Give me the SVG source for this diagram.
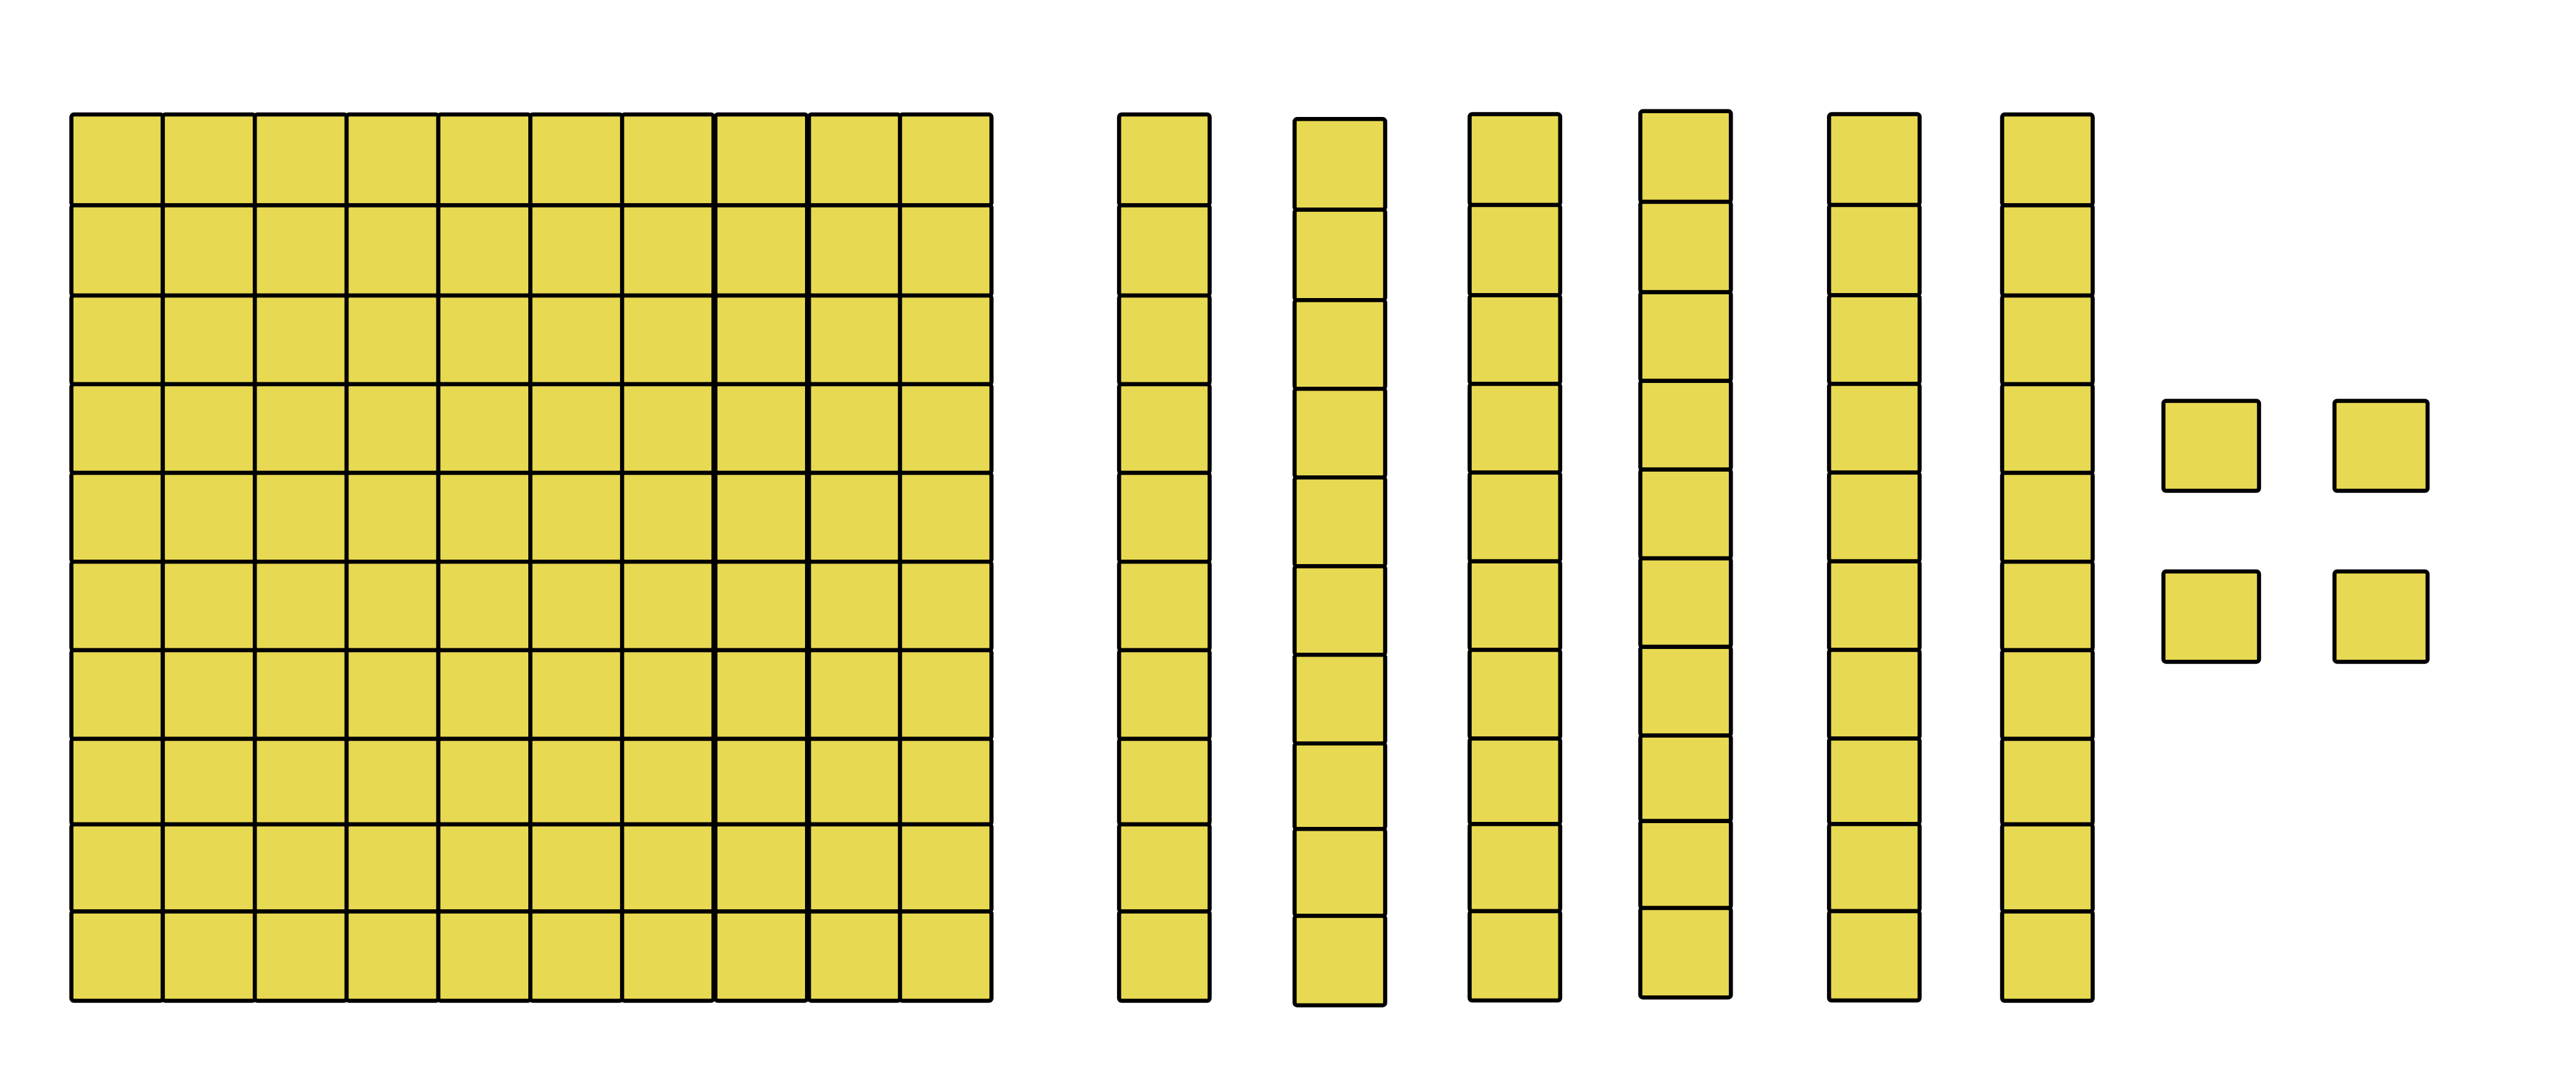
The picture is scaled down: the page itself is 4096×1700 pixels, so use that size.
<svg xmlns="http://www.w3.org/2000/svg" xmlns:xlink="http://www.w3.org/1999/xlink" width="4096" height="1700" viewBox="0 0 4096 1700">
<style>
.c{fill:#E8D952;stroke:#000;stroke-width:6.5;stroke-linejoin:round}
</style>
<defs>
<g id="rod">
<rect class="c" x="0" y="0" width="144" height="144.3" rx="4"/>
<rect class="c" x="0" y="144.3" width="144" height="143.7" rx="4"/>
<rect class="c" x="0" y="288" width="144" height="141" rx="4"/>
<rect class="c" x="0" y="429" width="144" height="141" rx="4"/>
<rect class="c" x="0" y="570" width="144" height="141.1" rx="4"/>
<rect class="c" x="0" y="711.1" width="144" height="140.9" rx="4"/>
<rect class="c" x="0" y="852" width="144" height="141" rx="4"/>
<rect class="c" x="0" y="993" width="144" height="135.9" rx="4"/>
<rect class="c" x="0" y="1128.9" width="144" height="138.4" rx="4"/>
<rect class="c" x="0" y="1267.3" width="144" height="142.1" rx="4"/>
</g>
</defs>
<rect width="4096" height="1700" fill="#fff"/>
<g id="hundred">
<g id="hcol0"><rect class="c" x="113.5" y="182.1" width="145.4" height="144.3" rx="4"/><rect class="c" x="113.5" y="326.4" width="145.4" height="143.7" rx="4"/><rect class="c" x="113.5" y="470.1" width="145.4" height="141" rx="4"/><rect class="c" x="113.5" y="611.1" width="145.4" height="141" rx="4"/><rect class="c" x="113.5" y="752.1" width="145.4" height="141.1" rx="4"/><rect class="c" x="113.5" y="893.2" width="145.4" height="140.9" rx="4"/><rect class="c" x="113.5" y="1034.1" width="145.4" height="141" rx="4"/><rect class="c" x="113.5" y="1175.1" width="145.4" height="135.9" rx="4"/><rect class="c" x="113.5" y="1311" width="145.4" height="138.4" rx="4"/><rect class="c" x="113.5" y="1449.4" width="145.4" height="142.1" rx="4"/></g>
<g id="hcol1"><rect class="c" x="258.9" y="182.1" width="146.3" height="144.3" rx="4"/><rect class="c" x="258.9" y="326.4" width="146.3" height="143.7" rx="4"/><rect class="c" x="258.9" y="470.1" width="146.3" height="141" rx="4"/><rect class="c" x="258.9" y="611.1" width="146.3" height="141" rx="4"/><rect class="c" x="258.9" y="752.1" width="146.3" height="141.1" rx="4"/><rect class="c" x="258.9" y="893.2" width="146.3" height="140.9" rx="4"/><rect class="c" x="258.9" y="1034.1" width="146.3" height="141" rx="4"/><rect class="c" x="258.9" y="1175.1" width="146.3" height="135.9" rx="4"/><rect class="c" x="258.9" y="1311" width="146.3" height="138.4" rx="4"/><rect class="c" x="258.9" y="1449.4" width="146.3" height="142.1" rx="4"/></g>
<g id="hcol2"><rect class="c" x="405.2" y="182.1" width="145.9" height="144.3" rx="4"/><rect class="c" x="405.2" y="326.4" width="145.9" height="143.7" rx="4"/><rect class="c" x="405.2" y="470.1" width="145.9" height="141" rx="4"/><rect class="c" x="405.2" y="611.1" width="145.9" height="141" rx="4"/><rect class="c" x="405.2" y="752.1" width="145.9" height="141.1" rx="4"/><rect class="c" x="405.2" y="893.2" width="145.9" height="140.9" rx="4"/><rect class="c" x="405.2" y="1034.1" width="145.9" height="141" rx="4"/><rect class="c" x="405.2" y="1175.1" width="145.9" height="135.9" rx="4"/><rect class="c" x="405.2" y="1311" width="145.9" height="138.4" rx="4"/><rect class="c" x="405.2" y="1449.4" width="145.9" height="142.1" rx="4"/></g>
<g id="hcol3"><rect class="c" x="551.1" y="182.1" width="145.9" height="144.3" rx="4"/><rect class="c" x="551.1" y="326.4" width="145.9" height="143.7" rx="4"/><rect class="c" x="551.1" y="470.1" width="145.9" height="141" rx="4"/><rect class="c" x="551.1" y="611.1" width="145.9" height="141" rx="4"/><rect class="c" x="551.1" y="752.1" width="145.9" height="141.1" rx="4"/><rect class="c" x="551.1" y="893.2" width="145.9" height="140.9" rx="4"/><rect class="c" x="551.1" y="1034.1" width="145.9" height="141" rx="4"/><rect class="c" x="551.1" y="1175.1" width="145.9" height="135.9" rx="4"/><rect class="c" x="551.1" y="1311" width="145.9" height="138.4" rx="4"/><rect class="c" x="551.1" y="1449.4" width="145.9" height="142.1" rx="4"/></g>
<g id="hcol4"><rect class="c" x="697" y="182.1" width="146.3" height="144.3" rx="4"/><rect class="c" x="697" y="326.4" width="146.3" height="143.7" rx="4"/><rect class="c" x="697" y="470.1" width="146.3" height="141" rx="4"/><rect class="c" x="697" y="611.1" width="146.3" height="141" rx="4"/><rect class="c" x="697" y="752.1" width="146.3" height="141.1" rx="4"/><rect class="c" x="697" y="893.2" width="146.3" height="140.9" rx="4"/><rect class="c" x="697" y="1034.1" width="146.3" height="141" rx="4"/><rect class="c" x="697" y="1175.1" width="146.3" height="135.9" rx="4"/><rect class="c" x="697" y="1311" width="146.3" height="138.4" rx="4"/><rect class="c" x="697" y="1449.4" width="146.3" height="142.1" rx="4"/></g>
<g id="hcol5"><rect class="c" x="843.3" y="182.1" width="145.9" height="144.3" rx="4"/><rect class="c" x="843.3" y="326.4" width="145.9" height="143.7" rx="4"/><rect class="c" x="843.3" y="470.1" width="145.9" height="141" rx="4"/><rect class="c" x="843.3" y="611.1" width="145.9" height="141" rx="4"/><rect class="c" x="843.3" y="752.1" width="145.9" height="141.1" rx="4"/><rect class="c" x="843.3" y="893.2" width="145.9" height="140.9" rx="4"/><rect class="c" x="843.3" y="1034.1" width="145.9" height="141" rx="4"/><rect class="c" x="843.3" y="1175.1" width="145.9" height="135.9" rx="4"/><rect class="c" x="843.3" y="1311" width="145.9" height="138.4" rx="4"/><rect class="c" x="843.3" y="1449.4" width="145.9" height="142.1" rx="4"/></g>
<g id="hcol6"><rect class="c" x="989.2" y="182.1" width="145.3" height="144.3" rx="4"/><rect class="c" x="989.2" y="326.4" width="145.3" height="143.7" rx="4"/><rect class="c" x="989.2" y="470.1" width="145.3" height="141" rx="4"/><rect class="c" x="989.2" y="611.1" width="145.3" height="141" rx="4"/><rect class="c" x="989.2" y="752.1" width="145.3" height="141.1" rx="4"/><rect class="c" x="989.2" y="893.2" width="145.3" height="140.9" rx="4"/><rect class="c" x="989.2" y="1034.1" width="145.3" height="141" rx="4"/><rect class="c" x="989.2" y="1175.1" width="145.3" height="135.9" rx="4"/><rect class="c" x="989.2" y="1311" width="145.3" height="138.4" rx="4"/><rect class="c" x="989.2" y="1449.4" width="145.3" height="142.1" rx="4"/></g>
<g id="hcol7"><rect class="c" x="1137.5" y="182.1" width="145.8" height="144.3" rx="4"/><rect class="c" x="1137.5" y="326.4" width="145.8" height="143.7" rx="4"/><rect class="c" x="1137.5" y="470.1" width="145.8" height="141" rx="4"/><rect class="c" x="1137.5" y="611.1" width="145.8" height="141" rx="4"/><rect class="c" x="1137.5" y="752.1" width="145.8" height="141.1" rx="4"/><rect class="c" x="1137.5" y="893.2" width="145.8" height="140.9" rx="4"/><rect class="c" x="1137.5" y="1034.1" width="145.8" height="141" rx="4"/><rect class="c" x="1137.5" y="1175.1" width="145.8" height="135.9" rx="4"/><rect class="c" x="1137.5" y="1311" width="145.8" height="138.4" rx="4"/><rect class="c" x="1137.5" y="1449.4" width="145.8" height="142.1" rx="4"/></g>
<g id="hcol8"><rect class="c" x="1286.3" y="182.1" width="144.8" height="144.3" rx="4"/><rect class="c" x="1286.3" y="326.4" width="144.8" height="143.7" rx="4"/><rect class="c" x="1286.3" y="470.1" width="144.8" height="141" rx="4"/><rect class="c" x="1286.3" y="611.1" width="144.8" height="141" rx="4"/><rect class="c" x="1286.3" y="752.1" width="144.8" height="141.1" rx="4"/><rect class="c" x="1286.3" y="893.2" width="144.8" height="140.9" rx="4"/><rect class="c" x="1286.3" y="1034.1" width="144.8" height="141" rx="4"/><rect class="c" x="1286.3" y="1175.1" width="144.8" height="135.9" rx="4"/><rect class="c" x="1286.3" y="1311" width="144.8" height="138.4" rx="4"/><rect class="c" x="1286.3" y="1449.4" width="144.8" height="142.1" rx="4"/></g>
<g id="hcol9"><rect class="c" x="1431.1" y="182.1" width="145.4" height="144.3" rx="4"/><rect class="c" x="1431.1" y="326.4" width="145.4" height="143.7" rx="4"/><rect class="c" x="1431.1" y="470.1" width="145.4" height="141" rx="4"/><rect class="c" x="1431.1" y="611.1" width="145.4" height="141" rx="4"/><rect class="c" x="1431.1" y="752.1" width="145.4" height="141.1" rx="4"/><rect class="c" x="1431.1" y="893.2" width="145.4" height="140.9" rx="4"/><rect class="c" x="1431.1" y="1034.1" width="145.4" height="141" rx="4"/><rect class="c" x="1431.1" y="1175.1" width="145.4" height="135.9" rx="4"/><rect class="c" x="1431.1" y="1311" width="145.4" height="138.4" rx="4"/><rect class="c" x="1431.1" y="1449.4" width="145.4" height="142.1" rx="4"/></g>
</g>
<g id="ten1"><use href="#rod" xlink:href="#rod" x="1779.4" y="182.1"/></g>
<g id="ten2"><use href="#rod" xlink:href="#rod" x="2058.5" y="189.3"/></g>
<g id="ten3"><use href="#rod" xlink:href="#rod" x="2336.8" y="181.6"/></g>
<g id="ten4"><use href="#rod" xlink:href="#rod" x="2608.2" y="176.8"/></g>
<g id="ten5"><use href="#rod" xlink:href="#rod" x="2908.3" y="181.6"/></g>
<g id="ten6"><use href="#rod" xlink:href="#rod" x="3183.5" y="182.1"/></g>
<g id="one1"><rect class="c" x="3440" y="637.6" width="152" height="143" rx="4"/></g>
<g id="one2"><rect class="c" x="3712" y="637.6" width="148" height="143" rx="4"/></g>
<g id="one3"><rect class="c" x="3440" y="908.8" width="152" height="143.6" rx="4"/></g>
<g id="one4"><rect class="c" x="3712" y="908.8" width="148" height="143.6" rx="4"/></g>
<g id="connectors"></g>
</svg>
